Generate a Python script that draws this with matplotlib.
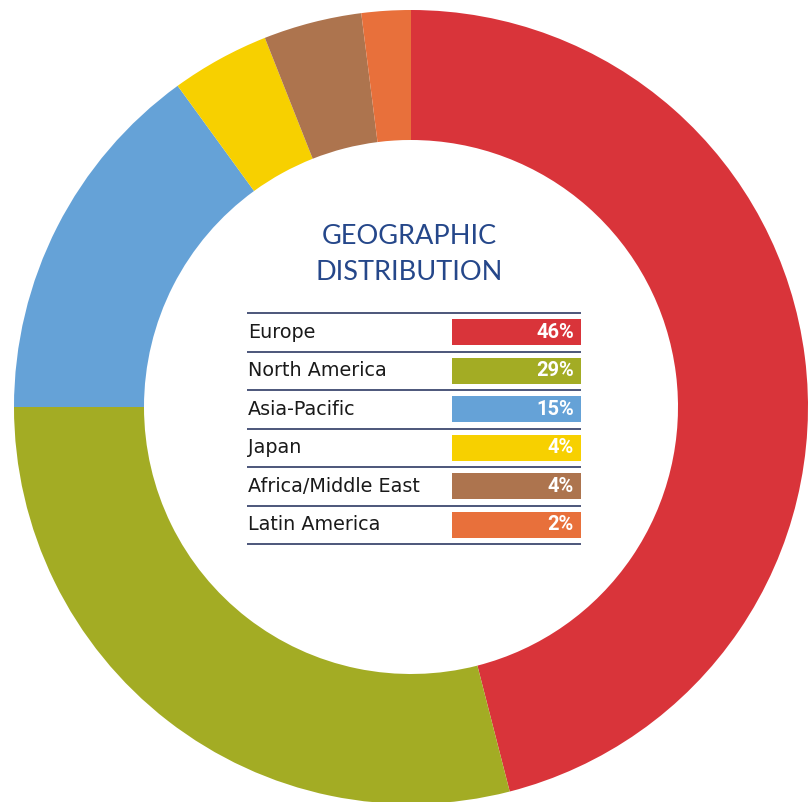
import matplotlib
matplotlib.use('Agg')
import matplotlib.pyplot as plt

# данные
regions = ['Europe', 'North America', 'Asia-Pacific', 'Japan', 'Africa/Middle East', 'Latin America']
shares = [46, 29, 15, 4, 4, 2]
colors = ['#D9343A', '#A3AC24', '#65A2D7', '#F7D000', '#AD744E', '#E8703B']
title = 'GEOGRAPHIC\nDISTRIBUTION'

W, H = 811, 802
fig = plt.figure(figsize=(W / 100, H / 100), dpi=100)
ax = fig.add_axes([0, 0, 1, 1])

# кольцевая диаграмма
ax.pie(shares, colors=colors, startangle=90, counterclock=False,
       center=(411, H - 407), radius=397,
       wedgeprops=dict(width=130, linewidth=0))

ax.set_xlim(0, W)
ax.set_ylim(0, H)
ax.set_aspect('equal')
ax.axis('off')

# заголовок
ax.text(409, H - 255, title, ha='center', va='center', fontsize=19.5,
        color='#25478A', family='Lato', linespacing=1.55)

# таблица
row_h = 38.5
top = 313
lines_y = [H - (top + i * row_h) for i in range(len(regions) + 1)]
ax.hlines(lines_y, 247, 581, color='#2E3A63', linewidth=1.2)

centers = [H - (top + row_h / 2 + i * row_h) for i in range(len(regions))]
ax.barh(centers, 129, left=452, height=26, color=colors)
for y, name, v in zip(centers, regions, shares):
    ax.text(248, y, name, ha='left', va='center', fontsize=13.8,
            color='#1a1a1a', family='DejaVu Sans')
    ax.text(574, y, f'{v}%', ha='right', va='center', fontsize=14.5,
            color='white', fontweight='bold', family='Roboto')

fig.savefig('out.png', dpi=100)
